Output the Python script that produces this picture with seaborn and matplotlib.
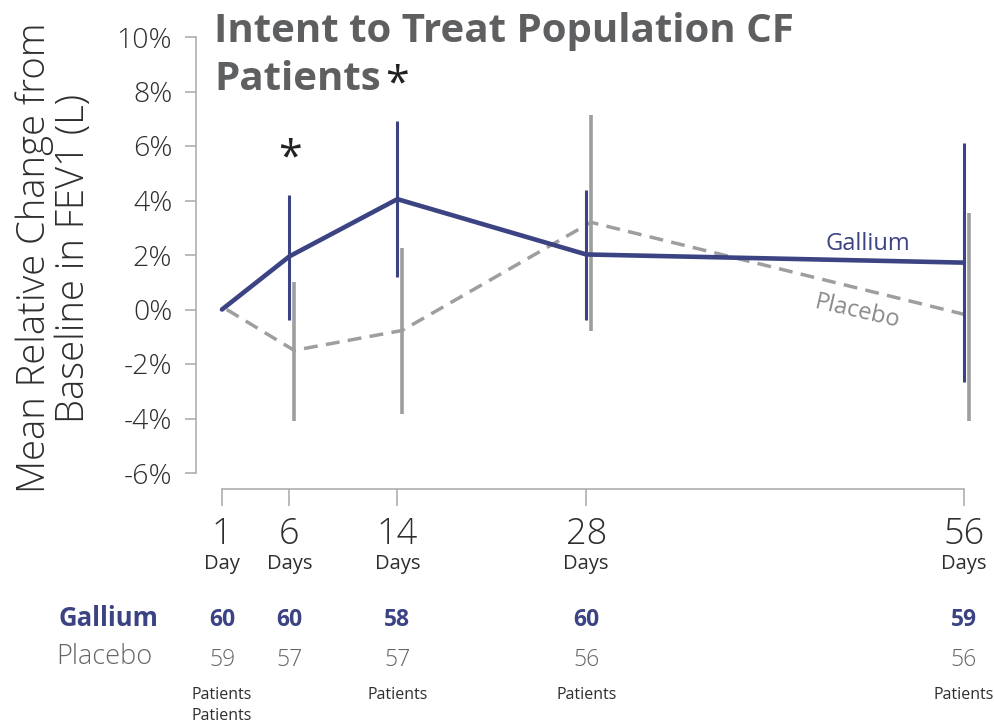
import numpy as np
import pandas as pd
import matplotlib
matplotlib.use("Agg")
import matplotlib.pyplot as plt
import matplotlib.transforms as mtransforms
import seaborn as sns

# ---- data -------------------------------------------------------------
days = [1, 6, 14, 28, 56]
day_units = ["Day", "Days", "Days", "Days", "Days"]

# mean relative change from baseline in FEV1 (%), with interval bounds
gallium_mean = [0.0, 1.95, 4.05, 2.02, 1.72]
gallium_low = [np.nan, -0.40, 1.20, -0.40, -2.65]
gallium_high = [np.nan, 4.20, 6.90, 4.40, 6.10]

placebo_mean = [0.0, -1.50, -0.77, 3.20, -0.22]
placebo_low = [np.nan, -4.10, -3.85, -0.80, -4.10]
placebo_high = [np.nan, 1.00, 2.25, 7.15, 3.55]

# patients at each visit
gallium_n = [60, 60, 58, 60, 59]
placebo_n = [59, 57, 57, 56, 56]

# visits with a significant difference
significant_days = [6, 14]

yticks = [-6, -4, -2, 0, 2, 4, 6, 8, 10]
ytick_labels = ["-6%", "-4%", "-2%", "0%", "2%", "4%", "6%", "8%", "10%"]

# ---- style ------------------------------------------------------------
NAVY = "#3b4383"
GRAY_LINE = "#9e9e9e"
GRAY_TEXT = "#666666"
TITLE_GRAY = "#5e5f61"
DARK = "#2e2e2e"
SPINE = "#a8a8a8"

sns.set_style("white")
plt.rcParams["font.family"] = ["Open Sans", "DejaVu Sans"]

W, H = 995, 727
fig = plt.figure(figsize=(W / 100, H / 100), dpi=100)


def fx(px):
    return px / W


def fy(py):
    return 1 - py / H


# axes geometry (pixels)
px_per_day, day0_px = 13.49, 208.5
px_per_pct, zero_px = 27.25, 309.5
xlim = (-0.93, 57.6)
ylim = (-6.6, 10.25)
left_px = day0_px + xlim[0] * px_per_day
right_px = day0_px + xlim[1] * px_per_day
top_px = zero_px - ylim[1] * px_per_pct
bottom_px = zero_px - ylim[0] * px_per_pct
ax = fig.add_axes([fx(left_px), fy(bottom_px),
                   (right_px - left_px) / W, (bottom_px - top_px) / H])

offset = 0.35  # placebo drawn slightly to the right of each visit
placebo_x = [d + offset for d in days]

gal = pd.DataFrame({"day": days, "change": gallium_mean})
pla = pd.DataFrame({"day": placebo_x, "change": placebo_mean})

ax.vlines(placebo_x, placebo_low, placebo_high, colors=GRAY_LINE,
          linewidth=2.6, zorder=1)
sns.lineplot(data=pla, x="day", y="change", color=GRAY_LINE, linewidth=2.5,
             ax=ax, zorder=2, legend=False)
ax.lines[-1].set_dashes((4, 2.4))
ax.vlines(days, gallium_low, gallium_high, colors=NAVY, linewidth=2.2,
          zorder=3)
sns.lineplot(data=gal, x="day", y="change", color=NAVY, linewidth=3.3,
             ax=ax, zorder=4, legend=False)

# significance markers
for d in significant_days:
    i = days.index(d)
    ax.text(d, gallium_high[i] + 1.33, "*", ha="center", va="center",
            fontsize=31, color="#222222", clip_on=False)

# series labels
ax.text(48.9, 2.42, "Gallium", color=NAVY, fontsize=17,
        ha="center", va="center")
ax.text(48.1, -0.08, "Placebo", color="#8a8a8a", fontsize=17,
        ha="center", va="center", rotation=-13, rotation_mode="anchor")

ax.set_xlim(*xlim)
ax.set_ylim(*ylim)
ax.set_xlabel("")

ax.set_yticks(yticks, labels=ytick_labels)
ax.set_xticks(days, labels=[str(d) for d in days])
ax.tick_params(axis="y", length=8, width=1.1, color=SPINE, pad=9,
               labelsize=20.5, labelcolor=DARK, left=True)
ax.tick_params(axis="x", length=12, width=1.1, color=SPINE, pad=7,
               labelsize=26, labelcolor=DARK, bottom=True)
for lab in ax.get_xticklabels() + ax.get_yticklabels():
    lab.set_fontweight("light")

for side in ["top", "right"]:
    ax.spines[side].set_visible(False)
for side in ["left", "bottom"]:
    ax.spines[side].set_color(SPINE)
    ax.spines[side].set_linewidth(1.1)
ax.spines["left"].set_bounds(-6, 10)
ax.spines["bottom"].set_bounds(1, 56)

# y axis title
ax.set_ylabel("Mean Relative Change from\nBaseline in FEV1 (L)",
              fontsize=27.5, color=DARK, linespacing=1.0, fontweight="light")
ax.yaxis.label.set_va("center")
ax.yaxis.set_label_coords((54 - left_px) / (right_px - left_px),
                          (bottom_px - 258) / (bottom_px - top_px))

# chart title
fig.text(fx(214), fy(42), "Intent to Treat Population CF", fontsize=29,
         fontweight="bold", color=TITLE_GRAY, ha="left", va="baseline")
fig.text(fx(214), fy(90), "Patients", fontsize=29,
         fontweight="bold", color=TITLE_GRAY, ha="left", va="baseline")

# visit units and patient counts below the axis
trans = mtransforms.blended_transform_factory(ax.transData, fig.transFigure)
for d, unit in zip(days, day_units):
    ax.text(d, fy(564), unit, transform=trans, ha="center", va="center",
            fontsize=14.5, color=DARK, clip_on=False)

fig.text(fx(108), fy(619), "Gallium", ha="center", va="center",
         fontsize=18.5, fontweight="bold", color=NAVY)
fig.text(fx(56), fy(657), "Placebo", ha="left", va="center",
         fontsize=19.5, color=GRAY_TEXT, fontweight="light")
for d, gn, pn in zip(days, gallium_n, placebo_n):
    ax.text(d, fy(620), str(gn), transform=trans, ha="center", va="center",
            fontsize=16.5, fontweight="bold", color=NAVY, clip_on=False)
    ax.text(d, fy(660), str(pn), transform=trans, ha="center", va="center",
            fontsize=16.5, color=GRAY_TEXT, fontweight="light", clip_on=False)

for d, row in [(1, 0), (1, 1), (14, 0), (28, 0), (56, 0)]:
    ax.text(d, fy(695 + 21 * row), "Patients", transform=trans,
            ha="center", va="center", fontsize=11.5, color=DARK, clip_on=False)

fig.savefig("out.png", dpi=100)
